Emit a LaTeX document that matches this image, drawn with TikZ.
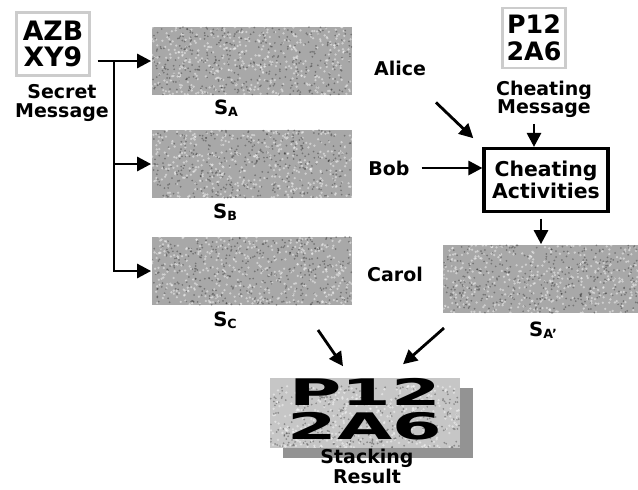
\documentclass[tikz,border=0pt]{standalone}
\usepackage{fontspec}
\setmainfont{DejaVu Sans}
\usetikzlibrary{arrows.meta, positioning, calc, shadows}

\newcommand{\shr}[1]{S\raisebox{-1.5pt}{\fontsize{9}{9}\selectfont #1}}

\tikzset{
  every picture/.style={line width=1.2pt},
  lbl/.style={font=\bfseries\fontsize{13.5}{13}\selectfont, align=center, inner sep=0pt},
  slbl/.style={font=\bfseries\fontsize{14}{14}\selectfont, inner sep=0pt},
  code/.style={draw=gray!40, line width=1.6pt, fill=white, align=center, inner sep=2pt,
    font=\bfseries\fontsize{19}{19}\selectfont},
  noise/.style n args={3}{path picture={
    \foreach \k in {1,...,#3}{
      \fill[white, opacity=.45] ([shift={({rnd*#1},{rnd*#2})}]path picture bounding box.south west) circle (.9pt);
      \fill[black, opacity=.3] ([shift={({rnd*#1},{rnd*#2})}]path picture bounding box.south west) circle (.7pt);
    }}},
  share/.style={fill=gray!68, minimum width=#1, minimum height=1.7cm, inner sep=0pt, noise={#1}{1.7cm}{400}},
  share/.default=5cm,
  activity/.style={draw, line width=2.2pt, align=center, minimum width=3.1cm, minimum height=1.575cm,
    font=\bfseries\fontsize{14.5}{13.5}\selectfont},
  arrow/.style={-{Triangle[length=10pt, width=10pt]}, line width=2pt},
}

\begin{document}
\begin{tikzpicture}[x=0.025cm, y=-0.025cm]
  \pgfmathsetseed{7}
  \useasboundingbox (0,0) rectangle (638,489);
  % secret message and the three shares
  \node[code, minimum width=1.825cm, minimum height=1.575cm] (secret) at (53,44) {AZB\\XY9};
  \node[lbl] (secretlbl) at (62,103) {Secret\\Message};
  \node[share] (sA) at (252,61) {};
  \node[share] (sB) at (252,164) {};
  \node[share] (sC) at (252,271) {};
  \node[slbl] (sAlbl) at (226,108) {\shr{A}};
  \node[slbl] (sBlbl) at (225,212) {\shr{B}};
  \node[slbl] (sClbl) at (225,320) {\shr{C}};
  \coordinate (split) at (114,61);
  \draw[arrow] ([xshift=5pt]secret.east |- sA.west) -- (sA.west);
  \draw[arrow] (split) |- (sC.west);
  \draw[arrow] (split |- sB.west) -- (sB.west);
  % participants
  \node[lbl] (alice) at (400,68) {Alice};
  \node[lbl] (bob) at (389,168) {Bob};
  \node[lbl] (carol) at (395,274) {Carol};
  % cheating
  \node[code, minimum width=1.575cm, minimum height=1.5cm, font=\bfseries\fontsize{18}{19}\selectfont] (cheat) at (534,38) {P12\\2A6};
  \node[lbl] (cheatlbl) at (544,99) {Cheating\\Message};
  \node[activity] (act) at (546,180) {Cheating\\Activities};
  \node[share=4.875cm] (sAp) at (541,279) {};
  \node[slbl] (sAplbl) at (543,330) {\shr{A'}};
  \draw[arrow, shorten <=27pt, shorten >=9pt] (alice) -- (act.north west);
  \draw[arrow, shorten <=8pt] (bob.east) -- (bob.east -| act.west);
  \draw[arrow, shorten <=4pt] (cheatlbl.south -| cheat) -- (cheat |- act.north);
  \draw[arrow, shorten <=4pt] (act.south -| sAp) -- (sAp.north);
  % stacking
  \node[fill=gray!45, minimum width=4.75cm, minimum height=1.55cm, inner sep=0pt, noise={4.75cm}{1.55cm}{350},
    drop shadow={shadow xshift=9pt, shadow yshift=-7pt, fill=gray!85, opacity=1},
    font=\bfseries\fontsize{26}{21}\selectfont] (result) at (365,413)
    {\scalebox{1.95}[1]{\begin{tabular}{@{}c@{}}P12\\[-1.5pt]2A6\end{tabular}}};
  \node[lbl] (resultlbl) at (367,466) {Stacking\\Result};
  \coordinate (fromC) at (318,330);
  \coordinate (fromAp) at (444,328);
  \draw[arrow] (fromC) -- ([shift={(-22,-11)}]result.north);
  \draw[arrow] (fromAp) -- ([shift={(38,-13)}]result.north);
\end{tikzpicture}
\end{document}
